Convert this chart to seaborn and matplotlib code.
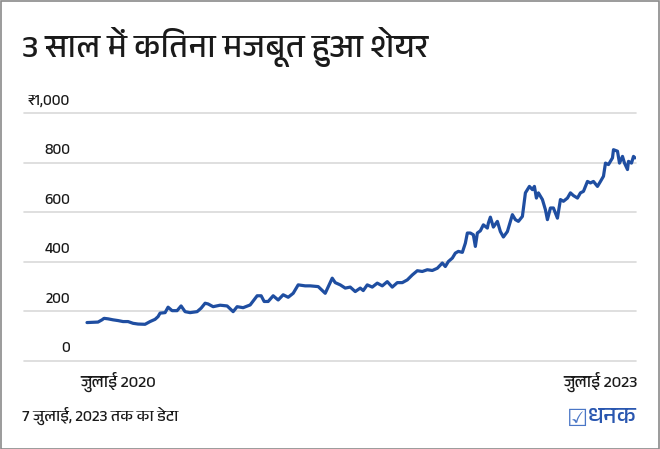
import pandas as pd
import numpy as np
import matplotlib
matplotlib.use('Agg')
import matplotlib.pyplot as plt
import seaborn as sns
from matplotlib import font_manager
from matplotlib.ft2font import FT2Font

# Datos (precio de la accion, rupias)
fechas = [
    '2020-07-07', '2020-07-19', '2020-07-29', '2020-08-06', '2020-08-10', '2020-08-18',
    '2020-08-28', '2020-09-07', '2020-09-17', '2020-09-27', '2020-10-07', '2020-10-17',
    '2020-10-31', '2020-11-10', '2020-11-20', '2020-11-26', '2020-11-30', '2020-12-10',
    '2020-12-16', '2020-12-24', '2021-01-03', '2021-01-11', '2021-01-19', '2021-01-29',
    '2021-02-12', '2021-02-20', '2021-02-28', '2021-03-06', '2021-03-16', '2021-03-30',
    '2021-04-13', '2021-04-25', '2021-05-03', '2021-05-15', '2021-05-29', '2021-06-12',
    '2021-06-20', '2021-06-26', '2021-07-04', '2021-07-14', '2021-07-24', '2021-08-03',
    '2021-08-13', '2021-08-23', '2021-09-02', '2021-09-16', '2021-09-26', '2021-10-12',
    '2021-10-26', '2021-11-09', '2021-11-15', '2021-11-25', '2021-12-05', '2021-12-15',
    '2021-12-25', '2022-01-04', '2022-01-10', '2022-01-18', '2022-01-28', '2022-02-07',
    '2022-02-17', '2022-02-27', '2022-03-09', '2022-03-19', '2022-03-29', '2022-04-08',
    '2022-04-18', '2022-04-28', '2022-05-08', '2022-05-18', '2022-05-28', '2022-06-07',
    '2022-06-17', '2022-06-23', '2022-06-29', '2022-07-07', '2022-07-13', '2022-07-19',
    '2022-07-27', '2022-08-02', '2022-08-06', '2022-08-12', '2022-08-18', '2022-08-22',
    '2022-08-26', '2022-09-01', '2022-09-07', '2022-09-15', '2022-09-17', '2022-09-21',
    '2022-09-27', '2022-10-05', '2022-10-11', '2022-10-17', '2022-10-25', '2022-11-04',
    '2022-11-10', '2022-11-16', '2022-11-24', '2022-11-30', '2022-12-08', '2022-12-14',
    '2022-12-18', '2022-12-22', '2022-12-26', '2023-01-03', '2023-01-09', '2023-01-13',
    '2023-01-19', '2023-01-25', '2023-02-02', '2023-02-08', '2023-02-14', '2023-02-22',
    '2023-02-28', '2023-03-06', '2023-03-14', '2023-03-20', '2023-03-26', '2023-04-03',
    '2023-04-09', '2023-04-15', '2023-04-23', '2023-04-29', '2023-05-05', '2023-05-09',
    '2023-05-15', '2023-05-23', '2023-05-25', '2023-06-02', '2023-06-06', '2023-06-12',
    '2023-06-16', '2023-06-22', '2023-06-24', '2023-06-30', '2023-07-04', '2023-07-07',
]
precios = [
    155, 156, 157, 166, 172, 170, 166, 163, 159, 159, 152, 149,
    148, 159, 168, 179, 193, 195, 217, 203, 203, 222, 199, 195,
    199, 213, 233, 230, 219, 225, 222, 199, 219, 215, 226, 263,
    263, 240, 240, 263, 246, 267, 257, 273, 307, 303, 303, 300,
    273, 334, 316, 307, 294, 298, 280, 294, 284, 307, 298, 314,
    303, 320, 298, 316, 316, 327, 347, 364, 361, 368, 365, 374,
    395, 381, 401, 415, 435, 442, 438, 475, 516, 516, 509, 462,
    516, 525, 549, 536, 556, 580, 540, 563, 522, 500, 522, 590,
    570, 563, 583, 678, 704, 691, 704, 657, 678, 651, 610, 570,
    617, 617, 576, 651, 644, 657, 678, 667, 657, 678, 684, 724,
    718, 724, 704, 724, 745, 798, 792, 819, 852, 846, 798, 825,
    798, 772, 805, 798, 825, 819,
]
y_ticks = [0, 200, 400, 600, 800, 1000]
y_labels = ['0', '200', '400', '600', '800', '₹1,000']
x_labels = ['जुलाई 2020', 'जुलाई 2023']

titulo = '3 साल में कितना मजबूत हुआ शेयर'
nota = '7 जुलाई, 2023 तक का डेटा'
marca = 'धनक'


# Buscar una fuente que tenga devanagari
def buscar_fuente(ch):
    for f in font_manager.fontManager.ttflist:
        if 'Devanagari' in f.name:
            return f.name
    for f in font_manager.fontManager.ttflist:
        try:
            if ord(ch) in FT2Font(f.fname).get_charmap():
                return f.name
        except Exception:
            pass
    return 'DejaVu Sans'


fuente_hi = buscar_fuente('क')

df = pd.DataFrame({'fecha': pd.to_datetime(fechas), 'precio': precios})

sns.set_theme(style='white')
plt.rcParams['font.family'] = [fuente_hi, 'Open Sans', 'DejaVu Sans']
texto = '#1a1a1a'
azul = '#1f4ea1'

fig = plt.figure(figsize=(6.6, 4.49), dpi=100)
ax = fig.add_axes([24 / 660, 88 / 449, 612 / 660, 248 / 449])

sns.lineplot(data=df, x='fecha', y='precio', ax=ax, color=azul, linewidth=2.3)

# Rejilla horizontal y etiquetas encima de cada linea
for v, lbl in zip(y_ticks, y_labels):
    ax.axhline(v, color='#d9d9d9', linewidth=1.2, zorder=0, clip_on=False)
    ax.annotate(lbl, xy=(46 / 612, v), xycoords=('axes fraction', 'data'),
                xytext=(0, 4), textcoords='offset points', ha='right', va='bottom',
                fontsize=11, color=texto)

inicio = df['fecha'].iloc[0]
fin = df['fecha'].iloc[-1]
dias = (fin - inicio).days
px_dia = 548 / dias
ax.set_xlim(inicio - pd.Timedelta(days=63 / px_dia), fin + pd.Timedelta(days=1 / px_dia))
ax.set_ylim(0, 1000)
ax.set_xticks([])
ax.set_yticks([])
ax.set_xlabel('')
ax.set_ylabel('')
sns.despine(ax=ax, left=True, bottom=True)

# Etiquetas del eje x
ax.annotate(x_labels[0], xy=(inicio, 0), xycoords=('data', 'data'), xytext=(-5, -8),
            textcoords='offset points', ha='left', va='top', fontsize=12, color=texto)
ax.annotate(x_labels[1], xy=(fin, 0), xycoords=('data', 'data'), xytext=(2, -8),
            textcoords='offset points', ha='right', va='top', fontsize=12, color=texto)

fig.text(22 / 660, 1 - 47 / 449, titulo, fontsize=23.5, color=texto, va='center', ha='left')
fig.text(22 / 660, 1 - 416 / 449, nota, fontsize=11.5, color=texto, va='center', ha='left')
fig.text(637 / 660, 1 - 417 / 449, marca, fontsize=17, color='#2a57b0', fontweight='bold',
         va='center', ha='right')
fig.text(588 / 660, 1 - 419 / 449, '☑', fontsize=17, color='#4a76c6', va='center', ha='right',
         family='DejaVu Sans')

# Marco gris alrededor
fig.patches.append(plt.Rectangle((0.001, 0.001), 0.998, 0.997, transform=fig.transFigure,
                                 fill=False, edgecolor='#8a8a8a', linewidth=1.2))

fig.savefig('out.png', dpi=100, facecolor='white')
